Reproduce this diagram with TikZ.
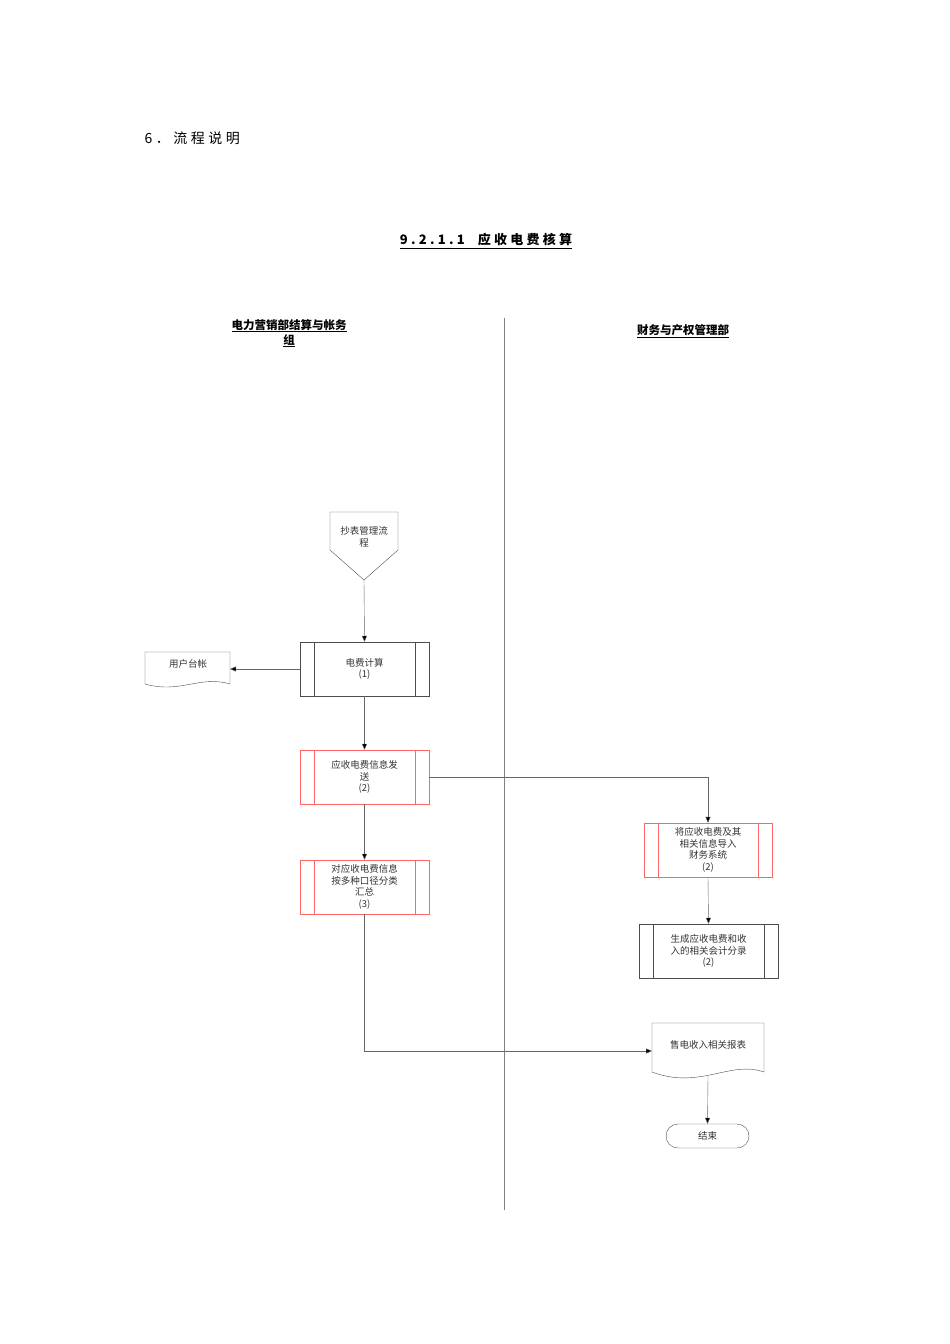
\documentclass[tikz,border=0pt]{standalone}
\usepackage{fontspec}
\newfontfamily\cjk{Noto Sans CJK SC}
\newfontfamily\cjkw{Noto Sans CJK SC}[LetterSpace=25]
\usetikzlibrary{arrows.meta}
\begin{document}
\begin{tikzpicture}[x=1pt,y=-1pt,
  lbl/.style={font=\cjk\fontsize{9.5}{11.5}\selectfont,align=center,text=black!80},
  arr/.style={draw=black!60,-{Triangle[length=6pt,width=5pt,fill=black]}},
  pbox/.style={draw=black!70},
  rbox/.style={draw=red!60}]
\useasboundingbox (0,0) rectangle (950,1344);
\node[anchor=west,font=\cjkw\fontsize{14}{16}\selectfont] (hd) at (141,138) {6．流程说明};
\node[font=\cjkw\bfseries\fontsize{13}{15}\selectfont] (ti) at (486,241) {\underline{9.2.1.1\quad 应收电费核算}};
\node[font=\cjk\bfseries\fontsize{11.5}{15}\selectfont,align=center] (l1) at (289,333) {\underline{电力营销部结算与帐务}\\\underline{组}};
\node[font=\cjk\bfseries\fontsize{11.5}{14}\selectfont] (l2) at (683,331) {\underline{财务与产权管理部}};
\draw[black!50] (504,318) -- (504,1210);
% offpage
\draw[pbox] (330,512) -- (398,512) -- (398,550) -- (364,580) -- (330,550) -- cycle;
\node[lbl] (op) at (364,537) {抄表管理流\\程};
\coordinate (opb) at (364,580);
% boxes
\draw[pbox] (300,642) rectangle (429,696); \draw[pbox] (314,642)--(314,696) (415,642)--(415,696);
\node[lbl,minimum width=129pt,minimum height=54pt] (b1) at (364.5,669) {电费计算\\(1)};
\draw[rbox] (300,750) rectangle (429,804); \draw[rbox] (314,750)--(314,804) (415,750)--(415,804);
\node[lbl,minimum width=129pt,minimum height=54pt] (b2) at (364.5,777) {应收电费信息发\\送\\(2)};
\draw[rbox] (300,860) rectangle (429,914); \draw[rbox] (314,860)--(314,914) (415,860)--(415,914);
\node[lbl,minimum width=129pt,minimum height=54pt] (b3) at (364.5,887) {对应收电费信息\\按多种口径分类\\汇总\\(3)};
\draw[rbox] (644,823) rectangle (772,877); \draw[rbox] (658,823)--(658,877) (758,823)--(758,877);
\node[lbl,minimum width=128pt,minimum height=54pt] (r1) at (708,850) {将应收电费及其\\相关信息导入\\财务系统\\(2)};
\draw[pbox] (639,924) rectangle (778,978); \draw[pbox] (653,924)--(653,978) (764,924)--(764,978);
\node[lbl,minimum width=139pt,minimum height=54pt] (r2) at (708.5,951) {生成应收电费和收\\入的相关会计分录\\(2)};
% documents
\draw[pbox] (145,652) -- (230,652) -- (230,684) .. controls (200,675) and (180,694) .. (145,684) -- cycle;
\node[lbl] (ut) at (188,664) {用户台帐};
\coordinate (ute) at (230,669);
\draw[pbox] (652,1023) -- (764,1023) -- (764,1072) .. controls (730,1060) and (700,1090) .. (652,1072) -- cycle;
\node[lbl] (rp) at (708,1045) {售电收入相关报表};
\coordinate (rpw) at (652,1051);
\coordinate (rps) at (708,1076);
\draw[pbox,rounded corners=12pt] (666,1124) rectangle (749,1148);
\node[lbl,minimum width=83pt,minimum height=24pt] (end) at (707.5,1136) {结束};
% connectors
\draw[arr] (opb) -- (b1.north);
\draw[arr] (b1.west) -- (ute);
\draw[arr] (b1.south) -- (b2.north);
\draw[arr] (b2.south) -- (b3.north);
\draw[arr] (b2.east) -| (r1.north);
\draw[arr] (r1.south) -- (r2.north);
\draw[arr] (b3.south) |- (rpw);
\draw[arr] (rps) -- (end.north);
\end{tikzpicture}
\end{document}
